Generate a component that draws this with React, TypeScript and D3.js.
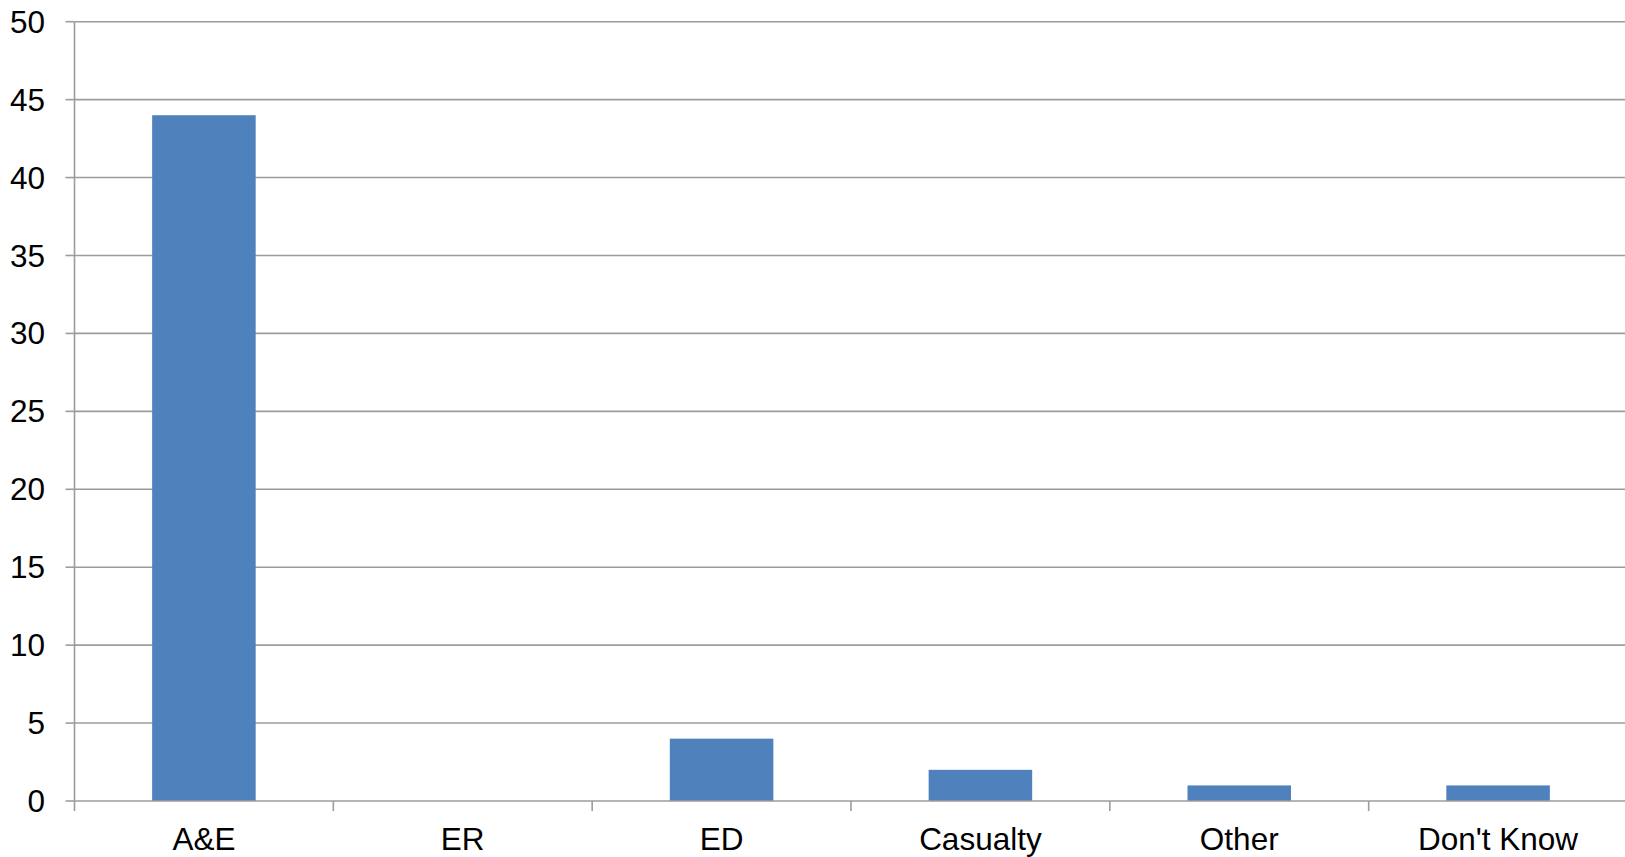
import React, { useEffect, useRef } from 'react'
import * as d3 from 'd3'

const categories = ['A&E', 'ER', 'ED', 'Casualty', 'Other', "Don't Know"]
const values = [44, 0, 4, 2, 1, 1]
const yTicks = [0, 5, 10, 15, 20, 25, 30, 35, 40, 45, 50]

const width = 1625
const height = 857

export default function App() {
  const svgRef = useRef<SVGSVGElement>(null)

  useEffect(() => {
    if (!svgRef.current) return
    const svg = d3.select(svgRef.current)
    svg.selectAll('*').remove()

    const left = 74.5
    const right = 1627.5
    const top = 21.7
    const bottom = 801

    const x = d3.scaleBand<string>().domain(categories).range([left, right]).paddingInner(0).paddingOuter(0)
    const y = d3.scaleLinear().domain([0, 50]).range([bottom, top])

    const gridColor = '#9c9c9c'
    const font = '"Liberation Sans", Arial, sans-serif'
    const fontSize = 31.5

    // gridlines
    svg.append('g')
      .selectAll('line')
      .data(yTicks.filter(d => d > 0))
      .join('line')
      .attr('x1', left)
      .attr('x2', width)
      .attr('y1', d => y(d))
      .attr('y2', d => y(d))
      .attr('stroke', gridColor)
      .attr('stroke-width', 1.6)

    // bars
    const barW = x.bandwidth() * 0.4
    svg.append('g')
      .selectAll('rect')
      .data(values)
      .join('rect')
      .attr('x', (d, i) => x(categories[i])! + (x.bandwidth() - barW) / 2)
      .attr('y', d => y(d))
      .attr('width', barW)
      .attr('height', d => bottom - y(d))
      .attr('fill', '#4f81bd')

    // y axis line and ticks
    svg.append('line')
      .attr('x1', left).attr('x2', left)
      .attr('y1', top).attr('y2', bottom + 10)
      .attr('stroke', gridColor).attr('stroke-width', 1.6)

    svg.append('g')
      .selectAll('line')
      .data(yTicks)
      .join('line')
      .attr('x1', left - 9)
      .attr('x2', left)
      .attr('y1', d => y(d))
      .attr('y2', d => y(d))
      .attr('stroke', gridColor)
      .attr('stroke-width', 1.6)

    svg.append('g')
      .selectAll('text')
      .data(yTicks)
      .join('text')
      .attr('x', 45)
      .attr('y', d => y(d))
      .attr('dy', '0.35em')
      .attr('text-anchor', 'end')
      .attr('font-family', font)
      .attr('font-size', fontSize)
      .attr('fill', '#000')
      .text(d => d)

    // x axis
    svg.append('line')
      .attr('x1', left).attr('x2', width)
      .attr('y1', bottom).attr('y2', bottom)
      .attr('stroke', gridColor).attr('stroke-width', 1.6)

    svg.append('g')
      .selectAll('line')
      .data(categories.slice(1))
      .join('line')
      .attr('x1', d => x(d)!)
      .attr('x2', d => x(d)!)
      .attr('y1', bottom)
      .attr('y2', bottom + 10)
      .attr('stroke', gridColor)
      .attr('stroke-width', 1.6)

    svg.append('g')
      .selectAll('text')
      .data(categories)
      .join('text')
      .attr('x', d => x(d)! + x.bandwidth() / 2)
      .attr('y', 850)
      .attr('text-anchor', 'middle')
      .attr('font-family', font)
      .attr('font-size', fontSize)
      .attr('fill', '#000')
      .text(d => d)
  }, [])

  return (
    <div style={{ position: 'absolute', left: 0, top: 0 }}>
      <svg ref={svgRef} width={width} height={height} style={{ display: 'block', background: '#fff' }} />
    </div>
  )
}
